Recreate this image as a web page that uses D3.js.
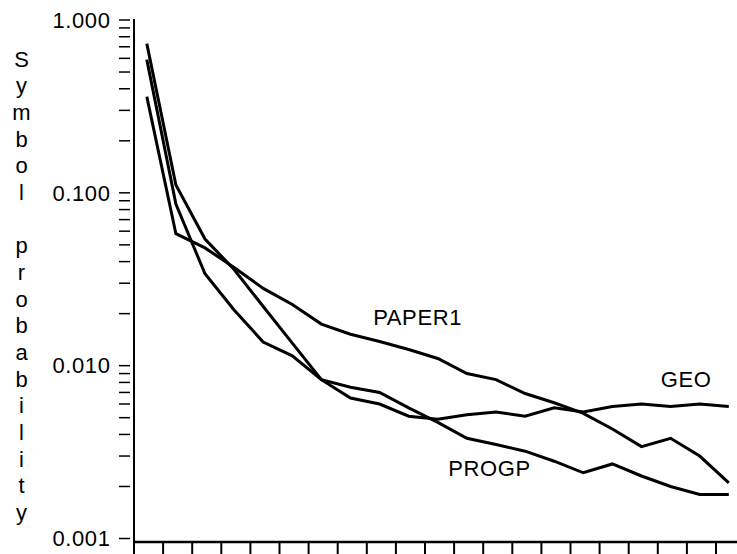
<!DOCTYPE html>
<html>
<head>
<meta charset="utf-8">
<script src="https://cdn.jsdelivr.net/npm/d3@7"></script>
<style>
  body { margin: 0; background: #fff; }
  text { font-family: "Liberation Sans", Arial, sans-serif; fill: #000; }
</style>
</head>
<body>
<div id="main"><svg width="737" height="554"></svg></div>
<script>
// symbol rank index 0..20
var ranks = d3.range(21);

var geo = [0.73, 0.111, 0.054, 0.036, 0.022, 0.0135, 0.0083, 0.0065, 0.0060, 0.0051, 0.0049,
           0.0052, 0.0054, 0.0051, 0.0057, 0.0054, 0.0058, 0.0060, 0.0058, 0.0060, 0.0058];
var progp = [0.59, 0.086, 0.034, 0.021, 0.0137, 0.0114, 0.0083, 0.0075, 0.0070, 0.0057, 0.0047,
             0.0038, 0.0035, 0.0032, 0.0028, 0.0024, 0.0027, 0.0023, 0.0020, 0.0018, 0.0018];
var paper1 = [0.36, 0.058, 0.048, 0.037, 0.028, 0.0226, 0.0174, 0.0152, 0.0138, 0.0124, 0.0110,
              0.0090, 0.0083, 0.0069, 0.0061, 0.0053, 0.0043, 0.0034, 0.0038, 0.0030, 0.0021];

var seriesNames = ['GEO', 'PROGP', 'PAPER1'];
var yTickLabels = ['1.000', '0.100', '0.010', '0.001'];
var yTickValues = [1, 0.1, 0.01, 0.001];
var axisTitle = 'Symbol probability';

var svg = d3.select('#main svg');
var svgWidth = +svg.attr('width');
var svgHeight = +svg.attr('height');

var X0 = 134, STEP = 29.1;
var xScale = d3.scaleLinear()
    .domain([0, 20])
    .range([X0, X0 + STEP * 20]);

var yScale = d3.scaleLog()
    .domain([0.001, 1])
    .range([538.5, 20]);

// points sit a bit right of each tick
var POINT_OFFSET = 0.44;

// minor + major ticks on the log axis
var yTicks = [];
[0.001, 0.01, 0.1].forEach(function(dec) {
  for (var k = 1; k < 10; k++) yTicks.push(dec * k);
});
yTicks.push(1);

svg.append('g').selectAll('line').data(yTicks)
  .enter().append('line')
  .attr('x1', 119).attr('x2', 130)
  .attr('y1', function(d) { return yScale(d); })
  .attr('y2', function(d) { return yScale(d); })
  .attr('stroke', '#000')
  .attr('stroke-width', 1.5);

svg.append('g').selectAll('text').data(yTickValues)
  .enter().append('text')
  .attr('x', 110.5)
  .attr('y', function(d) { return yScale(d) + 7.8; })
  .attr('text-anchor', 'end')
  .style('font-size', '22px')
  .style('letter-spacing', '0.6px')
  .text(function(d, i) { return yTickLabels[i]; });

// axis lines
svg.append('line')
  .attr('x1', X0).attr('x2', X0)
  .attr('y1', 19).attr('y2', 543)
  .attr('stroke', '#000').attr('stroke-width', 2);

svg.append('line')
  .attr('x1', X0 - 1).attr('x2', svgWidth)
  .attr('y1', 542).attr('y2', 542)
  .attr('stroke', '#000').attr('stroke-width', 2.5);

svg.append('g').selectAll('line').data(ranks)
  .enter().append('line')
  .attr('x1', function(d) { return xScale(d); })
  .attr('x2', function(d) { return xScale(d); })
  .attr('y1', 542).attr('y2', svgHeight)
  .attr('stroke', '#000')
  .attr('stroke-width', 2);

// vertical title, one letter per line
svg.append('g').selectAll('text').data(axisTitle.split(''))
  .enter().append('text')
  .attr('x', 21.5)
  .attr('y', function(d, i) { return 66.7 + i * 26.67; })
  .attr('text-anchor', 'middle')
  .style('font-size', '22px')
  .text(function(d) { return d; });

var line = d3.line()
  .x(function(d, i) { return xScale(i + POINT_OFFSET); })
  .y(function(d) { return yScale(d); });

svg.append('g').selectAll('path').data([geo, progp, paper1])
  .enter().append('path')
  .attr('d', line)
  .attr('fill', 'none')
  .attr('stroke', '#000')
  .attr('stroke-width', 3);

// series labels, placed near their curves (rank position, probability of baseline)
var labelPos = {
  'GEO':    {i: 18.1, v: 0.0075},
  'PROGP':  {i: 10.8, v: 0.0023},
  'PAPER1': {i: 8.22, v: 0.0172}
};

svg.append('g').selectAll('text').data(seriesNames)
  .enter().append('text')
  .attr('x', function(d) { return xScale(labelPos[d].i); })
  .attr('y', function(d) { return yScale(labelPos[d].v); })
  .style('font-size', '22px')
  .style('letter-spacing', '0.6px')
  .text(function(d) { return d; });
</script>
</body>
</html>
